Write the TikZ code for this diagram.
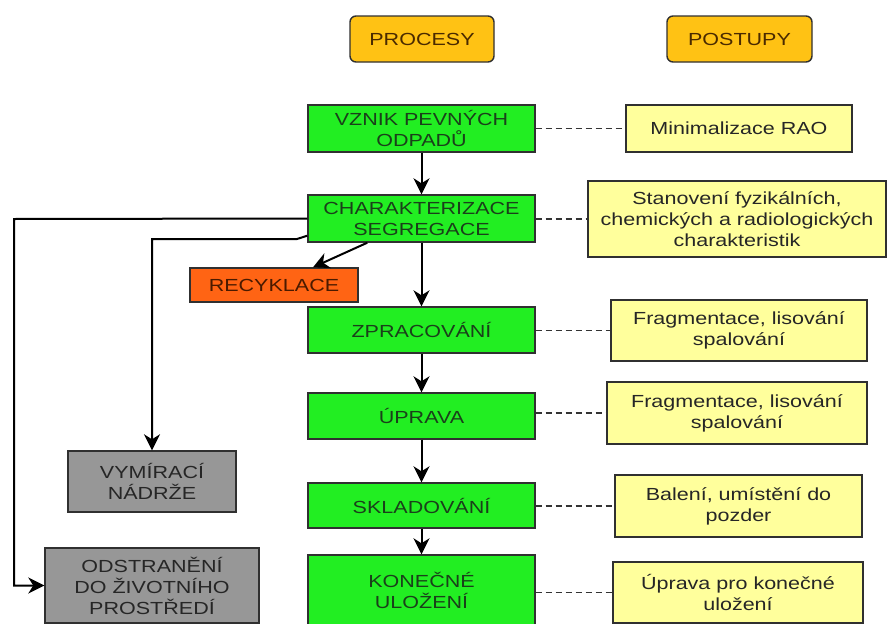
\documentclass[tikz,border=0pt]{standalone}
\usepackage{fontspec}
\setmainfont{Liberation Sans}[FakeStretch=1.23]
\usetikzlibrary{arrows.meta,calc}
\definecolor{grn}{HTML}{22EE22}
\definecolor{grtext}{HTML}{1A401A}
\definecolor{yel}{HTML}{FFFF9C}
\definecolor{org}{HTML}{FFC214}
\definecolor{orgtext}{HTML}{4A2A00}
\definecolor{recy}{HTML}{FF6414}
\definecolor{recytext}{HTML}{4A1A00}
\definecolor{gry}{HTML}{979797}
\definecolor{border}{HTML}{303030}
\begin{document}
\begin{tikzpicture}[x=1pt,y=-1pt,
  base/.style={draw=border, line width=1.4pt, inner sep=0pt, align=center,
    font=\fontsize{17.5}{21}\selectfont},
  greenbox/.style={base, fill=grn, text=grtext, minimum width=227pt},
  yellbox/.style={base, fill=yel, text=black!85},
  hdrbox/.style={base, fill=org, text=orgtext, rounded corners=6pt, minimum height=46pt},
  graybox/.style={base, fill=gry, text=black!85},
  recybox/.style={base, fill=recy, text=recytext},
  conn/.style={line width=2pt, draw=black, -{Stealth[length=16pt,width=16pt,inset=5pt]}},
  dashline/.style={line width=1.4pt, draw=black!80, dash pattern=on 6pt off 4pt}
]
\useasboundingbox[fill=white] (0,0) rectangle (887,624);

% headers
\node[hdrbox, minimum width=144pt] (procesy) at (422,39) {PROCESY};
\node[hdrbox, minimum width=145pt] (postupy) at (739.5,39) {POSTUPY};

% process column
\node[greenbox, minimum height=47pt] (vznik) at (421.5,128.5) {VZNIK PEVNÝCH\\ODPADŮ};
\node[greenbox, minimum height=47pt] (char) at (421.5,218.5) {CHARAKTERIZACE\\SEGREGACE};
\node[greenbox, minimum height=46pt] (zprac) at (421.5,330) {ZPRACOVÁNÍ};
\node[greenbox, minimum height=46pt] (uprava) at (421.5,416) {ÚPRAVA};
\node[greenbox, minimum height=45pt] (sklad) at (421.5,505.5) {SKLADOVÁNÍ};
\node[greenbox, minimum height=71pt] (konec) at (421.5,590.5) {KONEČNÉ\\ULOŽENÍ};

% side boxes
\node[recybox, minimum width=168pt, minimum height=34pt] (recyk) at (274,285) {RECYKLACE};
\node[graybox, minimum width=168pt, minimum height=61pt] (vymir) at (152,481.5) {VYMÍRACÍ\\NÁDRŽE};
\node[graybox, minimum width=214pt, minimum height=75pt] (odstr) at (152,585.5) {ODSTRANĚNÍ\\DO ŽIVOTNÍHO\\PROSTŘEDÍ};

% procedure column
\node[yellbox, minimum width=226pt, minimum height=47pt] (minim) at (739,128.5) {Minimalizace RAO};
\node[yellbox, minimum width=298pt, minimum height=76pt] (stanov) at (737,219) {Stanovení fyzikálních,\\chemických a radiologických\\charakteristik};
\node[yellbox, minimum width=256pt, minimum height=61pt] (frag1) at (739,330.5) {Fragmentace, lisování\\spalování};
\node[yellbox, minimum width=260pt, minimum height=62pt] (frag2) at (737,413) {Fragmentace, lisování\\spalování};
\node[yellbox, minimum width=247pt, minimum height=62pt] (balen) at (738.5,506) {Balení, umístění do\\pozder};
\node[yellbox, minimum width=250pt, minimum height=61pt] (uprpro) at (738,592.5) {Úprava pro konečné\\uložení};

% main flow
\draw[conn] (vznik) -- (char);
\draw[conn] (char) -- (zprac);
\draw[conn] (zprac) -- (uprava);
\draw[conn] (uprava) -- (sklad);
\draw[conn] (sklad) -- (konec);

% branches
\draw[conn] ([xshift=60pt]char.south west) -- ([xshift=39pt]recyk.north);
\coordinate (lt) at (14,219);
\draw[conn] (char.west) -- (lt) |- (odstr.west);
\coordinate (l2a) at (297,239);
\coordinate (l2) at (152,239);
\draw[conn] ([yshift=7pt]char.south west) -- (l2a) -- (l2) -- (vymir.north);

% dashed links
\draw[dashline] (vznik.east |- minim.west) -- (minim.west);
\draw[dashline] (char.east |- stanov.west) -- (stanov.west);
\draw[dashline] (zprac.east |- frag1.west) -- (frag1.west);
\draw[dashline] (uprava.east |- frag2.west) -- (frag2.west);
\draw[dashline] (sklad.east |- balen.west) -- (balen.west);
\draw[dashline] (konec.east |- uprpro.west) -- (uprpro.west);
\end{tikzpicture}
\end{document}
